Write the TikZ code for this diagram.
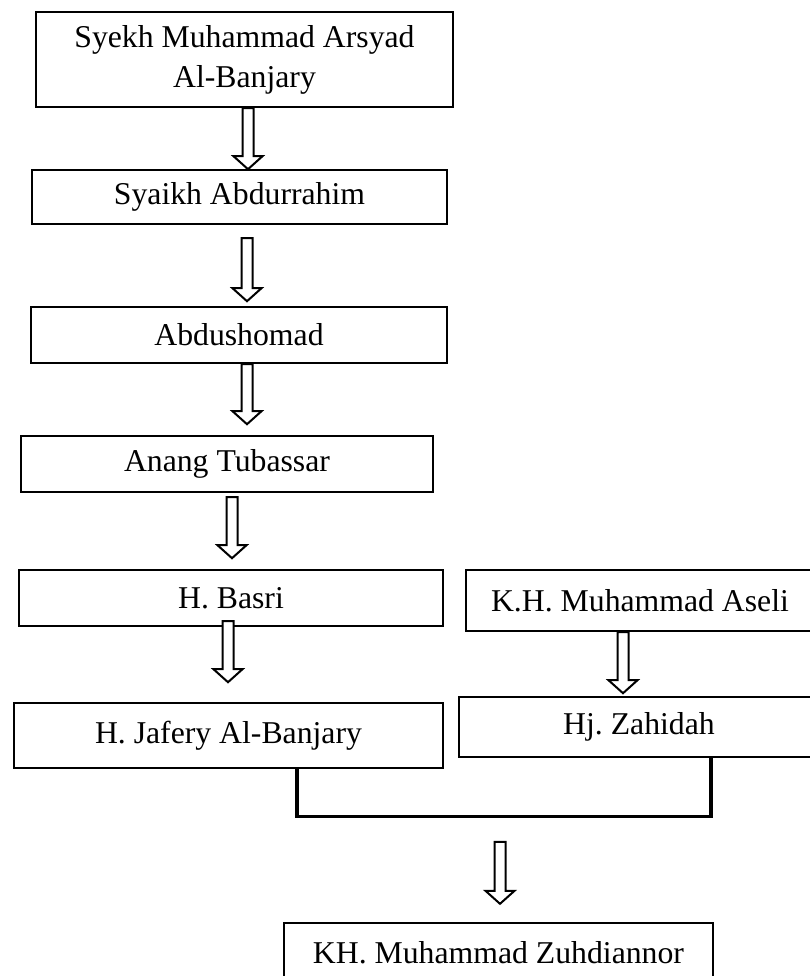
\documentclass[tikz,border=0pt]{standalone}
\usepackage{fontspec}
\setmainfont{Liberation Serif}
\frenchspacing
\usetikzlibrary{calc}

\tikzset{
  person/.style={draw, line width=1.8pt, inner sep=0pt, align=center,
    font=\fontsize{23.8}{30}\selectfont},
  bracket/.style={line width=2.5pt},
  fatarrow/.pic={
    \draw[line width=1.5pt, fill=white] (-5.5,0) -- (5.5,0) -- (5.5,#1-13)
      -- (14.5,#1-13) -- (0,#1) -- (-14.5,#1-13) -- (-5.5,#1-13) -- cycle;
  }
}

\begin{document}
\begin{tikzpicture}[x=0.75pt, y=-0.75pt]
        \useasboundingbox (0,0) rectangle (810,976);
        % left line
        \node[person, minimum width=417*0.75pt, minimum height=95*0.75pt] (syekh) at (244.5,59.5) {Syekh Muhammad Arsyad\\Al-Banjary};
        \node[person, minimum width=415*0.75pt, minimum height=54*0.75pt] (syaikh) at (239.5,197) {Syaikh Abdurrahim};
        \node[person, minimum width=416*0.75pt, minimum height=56*0.75pt] (abdus) at (239,335) {Abdushomad};
        \node[person, minimum width=412*0.75pt, minimum height=56*0.75pt] (anang) at (227,464) {Anang Tubassar};
        \node[person, minimum width=424*0.75pt, minimum height=56*0.75pt] (basri) at (231,598) {H. Basri};
        \node[person, minimum width=429*0.75pt, minimum height=65*0.75pt] (jafery) at (228.5,735.5) {H. Jafery Al-Banjary};
        % right line
        \node[person, minimum width=348*0.75pt, minimum height=61*0.75pt] (aseli) at (640,600.5) {K.H. Muhammad Aseli};
        \node[person, minimum width=360*0.75pt, minimum height=60*0.75pt] (zahidah) at (639,727) {Hj. Zahidah};
        % child
        \node[person, minimum width=429*0.75pt, minimum height=60*0.75pt] (zuhdi) at (498.5,953) {KH. Muhammad Zuhdiannor};

        \pic at ($(syekh.south)+(3.5,0)$) {fatarrow=61};
        \pic at ($(syaikh.south)+(7.5,13)$) {fatarrow=63};
        \pic at ($(abdus.south)+(8,0)$) {fatarrow=60};
        \pic at ($(anang.south)+(5,4)$) {fatarrow=61};
        \pic at ($(basri.south)+(-3,-6)$) {fatarrow=61};
        \pic at ($(aseli.south)+(-17,0)$) {fatarrow=61};

        \coordinate (jb) at ($(jafery.south)+(68.5,0)$);
        \coordinate (zb) at ($(zahidah.south)+(72,0)$);
        \draw[bracket] (jb) -- ++(0,47) -| (zb);
        \pic at ($(zuhdi.north)+(1.5,-80)$) {fatarrow=62};
      \end{tikzpicture}
\end{document}
